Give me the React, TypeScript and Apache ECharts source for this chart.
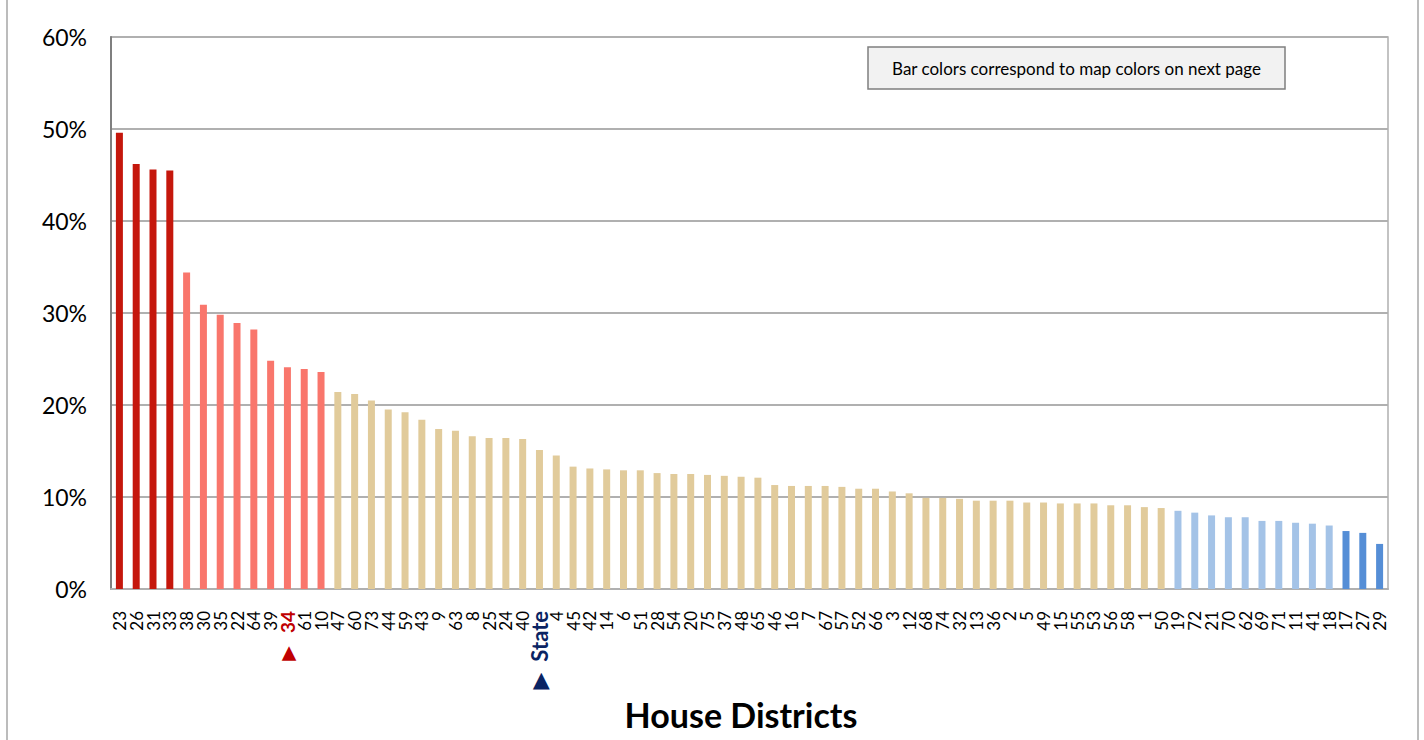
import React, { useEffect, useRef } from "react";
import * as echarts from "echarts";

const districts = [
  "23", "26", "31", "33", "38", "30", "35", "22", "64", "39", "34", "61", "10",
  "47", "60", "73", "44", "59", "43", "9", "63", "8", "25", "24", "40", "State",
  "4", "45", "42", "14", "6", "51", "28", "54", "20", "75", "37", "48", "65",
  "46", "16", "7", "67", "57", "52", "66", "3", "12", "68", "74", "32", "13",
  "36", "2", "5", "49", "15", "55", "53", "56", "58", "1", "50", "19", "72",
  "21", "70", "62", "69", "71", "11", "41", "18", "17", "27", "29",
];

const shares = [
  49.6, 46.2, 45.6, 45.5, 34.4, 30.9, 29.8, 28.9, 28.2, 24.8, 24.1, 23.9, 23.6,
  21.4, 21.2, 20.5, 19.5, 19.2, 18.4, 17.4, 17.2, 16.6, 16.4, 16.4, 16.3, 15.1,
  14.5, 13.3, 13.1, 13.0, 12.9, 12.9, 12.6, 12.5, 12.5, 12.4, 12.3, 12.2, 12.1,
  11.3, 11.2, 11.2, 11.2, 11.1, 10.9, 10.9, 10.6, 10.4, 9.9, 9.9, 9.8, 9.6,
  9.6, 9.6, 9.4, 9.4, 9.3, 9.3, 9.3, 9.1, 9.1, 8.9, 8.8, 8.5, 8.3,
  8.0, 7.8, 7.8, 7.4, 7.4, 7.2, 7.1, 6.9, 6.3, 6.1, 4.9,
];

// map colour class of each district (1 = highest ... 5 = lowest)
const tiers = [
  1, 1, 1, 1, 2, 2, 2, 2, 2, 2, 2, 2, 2,
  3, 3, 3, 3, 3, 3, 3, 3, 3, 3, 3, 3, 3,
  3, 3, 3, 3, 3, 3, 3, 3, 3, 3, 3, 3, 3,
  3, 3, 3, 3, 3, 3, 3, 3, 3, 3, 3, 3, 3,
  3, 3, 3, 3, 3, 3, 3, 3, 3, 3, 3, 4, 4,
  4, 4, 4, 4, 4, 4, 4, 4, 5, 5, 5,
];

const yTicks = [0, 10, 20, 30, 40, 50, 60];
const highlightDistrict = "34";
const stateLabel = "State";
const noteText = "Bar colors correspond to map colors on next page";
const axisTitle = "House Districts";

const tierColors: Record<number, string> = {
  1: "#C5170C",
  2: "#F9766C",
  3: "#E1CB9B",
  4: "#A4C3E7",
  5: "#558ED6",
};

const FONT = "Lato, 'Open Sans', 'DejaVu Sans', sans-serif";

export default function App() {
  const ref = useRef<HTMLDivElement>(null);

  useEffect(() => {
    if (!ref.current) return;
    const chart = echarts.init(ref.current, null, { renderer: "svg" });

    const option: any = {
      animation: false,
      backgroundColor: "#FFFFFF",
      grid: {
        left: 111,
        right: 36,
        top: 37,
        bottom: 151,
        show: true,
        borderColor: "#B0B0B0",
        borderWidth: 1.5,
        backgroundColor: "transparent",
      },
      xAxis: {
        type: "category",
        data: districts,
        axisLine: { show: true, lineStyle: { color: "#B0B0B0", width: 2 } },
        axisTick: { show: false },
        axisLabel: {
          interval: 0,
          rotate: 90,
          margin: 22,
          fontSize: 17,
          fontFamily: FONT,
          color: "#000000",
          formatter: (v: string) => {
            if (v === highlightDistrict) return `{tri|▶}{hl|${v}}`;
            if (v === stateLabel) return `{tri2|▶}{st|${v}}`;
            return v;
          },
          rich: {
            tri: {
              fontSize: 19,
              fontFamily: "'DejaVu Sans', sans-serif",
              color: "#C00000",
              padding: [0, 13, 0, 0],
            },
            hl: {
              fontSize: 19,
              fontWeight: "bold",
              fontFamily: FONT,
              color: "#C00000",
            },
            tri2: {
              fontSize: 22,
              fontFamily: "'DejaVu Sans', sans-serif",
              color: "#0A2463",
              padding: [0, 11, 0, 0],
            },
            st: {
              fontSize: 22,
              fontWeight: "bold",
              fontFamily: FONT,
              color: "#0A2463",
            },
          },
        },
      },
      yAxis: {
        type: "value",
        min: yTicks[0],
        max: yTicks[yTicks.length - 1],
        interval: yTicks[1] - yTicks[0],
        axisLine: { show: true, lineStyle: { color: "#7F7F7F", width: 2 } },
        axisTick: { show: false },
        splitLine: { show: true, lineStyle: { color: "#B0B0B0", width: 2 } },
        axisLabel: {
          formatter: "{value}%",
          fontSize: 23,
          fontFamily: FONT,
          color: "#000000",
          margin: 24,
        },
      },
      series: [
        {
          type: "bar",
          barWidth: 7,
          data: shares.map((v, i) => ({
            value: v,
            itemStyle: { color: tierColors[tiers[i]] },
          })),
        },
      ],
      graphic: [
        {
          type: "rect",
          z: -10,
          silent: true,
          shape: { x: 7, y: -10, width: 1411, height: 760 },
          style: { fill: "none", stroke: "#A6A6A6", lineWidth: 1.5 },
        },
        {
          type: "rect",
          shape: { x: 868, y: 47, width: 417, height: 42 },
          style: { fill: "#F2F2F2", stroke: "#7F7F7F", lineWidth: 1.5 },
        },
        {
          type: "text",
          x: 1076.5,
          y: 68.5,
          style: {
            text: noteText,
            fill: "#000000",
            font: `17px ${FONT}`,
            textAlign: "center",
            textVerticalAlign: "middle",
          },
        },
        {
          type: "text",
          x: 741,
          y: 714,
          style: {
            text: axisTitle,
            fill: "#000000",
            font: `bold 34px ${FONT}`,
            textAlign: "center",
            textVerticalAlign: "middle",
          },
        },
      ],
    };

    chart.setOption(option);
    return () => chart.dispose();
  }, []);

  return (
    <div
      ref={ref}
      style={{ position: "absolute", left: 0, top: 0, width: 1424, height: 740 }}
    />
  );
}
